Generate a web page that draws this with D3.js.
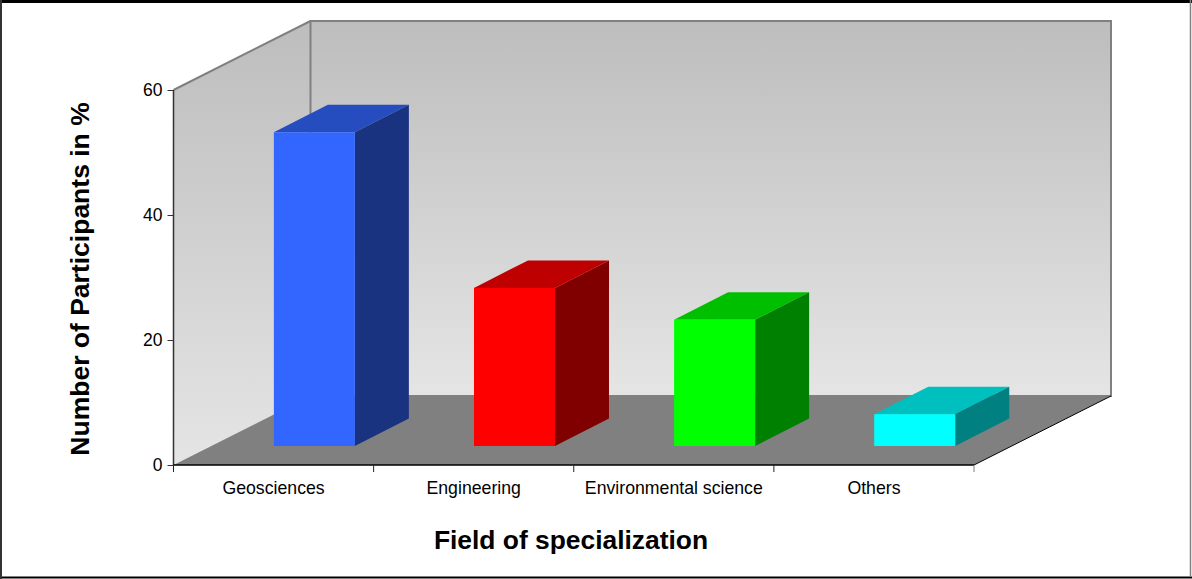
<!DOCTYPE html>
<html><head><meta charset="utf-8">
<script src="https://cdn.jsdelivr.net/npm/d3@7"></script>
<style>
html,body{margin:0;padding:0;background:#fff;overflow:hidden}
svg{display:block}
text{font-family:"Liberation Sans",Arial,sans-serif;fill:#000}
</style></head><body>
<div id="chart"></div>
<script>
const categories = ["Geosciences","Engineering","Environmental science","Others"];
const values = [50.2,25.3,20.2,5.1];
const yTicks = [0,20,40,60];
const frontColors = ["#3366ff","#ff0000","#00ff00","#00ffff"];
const topColors = ["#264dbf","#bf0000","#00bf00","#00bfbf"];
const sideColors = ["#1a3380","#800000","#008000","#008080"];

const W=1192,H=579;
const svg=d3.select("#chart").append("svg").attr("width",W).attr("height",H);
const x0=173.5,x1=974,y0=465,y60=90;
const depthX=137,depthY=-69;          // full floor depth
const barBaseX=0.3,barBaseY=-19;      // bar base inset from the front edge
const barDX=54,barDY=-27.5;           // bar depth
const barW=81;

const y=d3.scaleLinear().domain([0,60]).range([y0,y60]);
const x=d3.scaleBand().domain(categories).range([x0,x1]);

const defs=svg.append("defs");
function grad(id){
  const g=defs.append("linearGradient").attr("id",id).attr("x1",0).attr("x2",0).attr("y1",0).attr("y2",1);
  g.append("stop").attr("offset","0%").attr("stop-color","#bdbdbd");
  g.append("stop").attr("offset","100%").attr("stop-color","#e5e5e5");
}
grad("wall");grad("side");

// outer frame: black top and bottom, grey sides
const frame=svg.append("g");
frame.append("line").attr("x1",0).attr("x2",W).attr("y1",1.5).attr("y2",1.5).attr("stroke","#000").attr("stroke-width",3);
frame.append("line").attr("x1",0).attr("x2",W).attr("y1",577.5).attr("y2",577.5).attr("stroke","#000").attr("stroke-width",2);
frame.append("line").attr("x1",1).attr("x2",1).attr("y1",0).attr("y2",H).attr("stroke","#333").attr("stroke-width",2);
frame.append("line").attr("x1",1190.5).attr("x2",1190.5).attr("y1",0).attr("y2",577).attr("stroke","#808080").attr("stroke-width",1.5);

const poly=(pts)=>d3.line()(pts)+"Z";
// left wall
svg.append("path").attr("d",poly([[x0,y60],[x0+depthX,y60+depthY],[x0+depthX,y0+depthY],[x0,y0]]))
  .attr("fill","url(#side)").attr("stroke","none");
// back wall
svg.append("path").attr("d",poly([[x0+depthX,y60+depthY],[x1+depthX,y60+depthY],[x1+depthX,y0+depthY],[x0+depthX,y0+depthY]]))
  .attr("fill","url(#wall)").attr("stroke","#808080").attr("stroke-width",2);
// floor
svg.append("path").attr("d",poly([[x0,y0],[x1,y0],[x1+depthX,y0+depthY],[x0+depthX,y0+depthY]]))
  .attr("fill","#808080");
// wall top edge of left wall
svg.append("line").attr("x1",x0).attr("y1",y60).attr("x2",x0+depthX).attr("y2",y60+depthY)
  .attr("stroke","#808080").attr("stroke-width",2);
// floor right edge
svg.append("line").attr("x1",x1).attr("y1",y0).attr("x2",x1+depthX).attr("y2",y0+depthY)
  .attr("stroke","#000").attr("stroke-width",1);

// bars
const bars=svg.append("g").selectAll("g").data(categories).join("g");
bars.each(function(c,i){
  const g=d3.select(this);
  const l=x(c)+x.bandwidth()/2+barBaseX, r=l+barW;
  const b=y0+barBaseY, t=y(values[i])+barBaseY;
  g.append("path").attr("d",poly([[l,t],[r,t],[r+barDX,t+barDY],[l+barDX,t+barDY]])).attr("fill",topColors[i]);
  g.append("path").attr("d",poly([[r,t],[r+barDX,t+barDY],[r+barDX,b+barDY],[r,b]])).attr("fill",sideColors[i]);
  g.append("rect").attr("x",l).attr("y",t).attr("width",barW).attr("height",b-t).attr("fill",frontColors[i]);
});

// axes
const yAxis=d3.axisLeft(y).tickValues(yTicks).tickSize(6).tickPadding(5);
const ga=svg.append("g").attr("transform",`translate(${x0},0)`).call(yAxis);
ga.select(".domain").attr("stroke","#333").attr("stroke-width",1.5).attr("d",`M0,${y60}V${y0}`);
ga.selectAll("line").attr("stroke","#333");
ga.selectAll("text").attr("font-size",17.5).attr("dy","0.3em").attr("font-family",'"Liberation Sans",Arial,sans-serif');

const xAxis=d3.axisBottom(x).tickSize(0).tickPadding(16);
const gx=svg.append("g").attr("transform",`translate(0,${y0})`).call(xAxis);
gx.select(".domain").attr("stroke","#000").attr("stroke-width",1.5).attr("d",`M${x0},0H${x1}`);
gx.selectAll("text").attr("font-size",17.7).attr("font-family",'"Liberation Sans",Arial,sans-serif');
// category separators
svg.append("g").selectAll("line").data(d3.range(categories.length+1)).join("line")
  .attr("x1",i=>x0+i*x.step()).attr("x2",i=>x0+i*x.step())
  .attr("y1",y0).attr("y2",y0+7).attr("stroke",(d,i)=>i===categories.length?"#808080":"#222");

svg.append("text").attr("x",571).attr("y",549).attr("text-anchor","middle")
  .attr("font-size",26.4).attr("font-weight","bold").text("Field of specialization");
svg.append("text").attr("transform","translate(89,279) rotate(-90)").attr("text-anchor","middle")
  .attr("font-size",26.5).attr("font-weight","bold").text("Number of Participants in %");
</script>
</body></html>
